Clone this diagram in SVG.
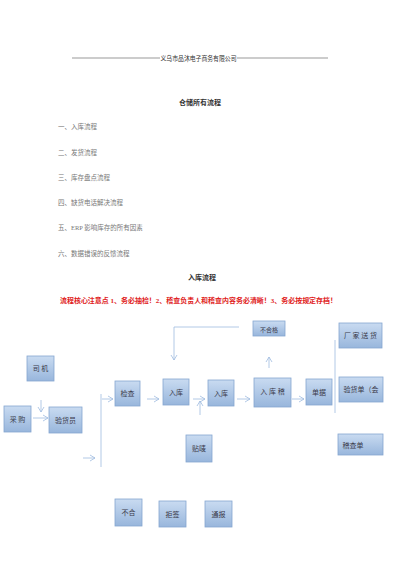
<svg xmlns="http://www.w3.org/2000/svg" width="400" height="566" viewBox="0 0 400 566">
<defs>
<linearGradient id="g" x1="0" y1="0" x2="0" y2="1">
<stop offset="0" stop-color="#c9dbf1"/>
<stop offset="1" stop-color="#98b6dc"/>
</linearGradient>
<marker id="a" markerWidth="8" markerHeight="8" refX="6" refY="4" orient="auto" markerUnits="userSpaceOnUse">
<path d="M1,1 L6,4 L1,7" fill="none" stroke="#9fbbe0" stroke-width="0.8"/>
</marker>
<style>
.b{fill:url(#g);stroke:#86a6d0;stroke-width:0.8}
.t{font-family:"Liberation Serif","Noto Sans CJK SC",serif;font-size:7px;fill:#3a3a4a;text-anchor:middle}
.h{font-family:"Liberation Serif","Noto Sans CJK SC",serif;fill:#333}
.g{font-family:"Liberation Serif","Noto Sans CJK SC",serif;fill:#777;font-size:6.5px}
.r{font-family:"Liberation Serif","Noto Sans CJK SC",serif;fill:#e02020;font-size:6.6px;font-weight:bold}
.c{stroke:#9fbbe0;stroke-width:0.8;fill:none}
.ar{stroke:#9fbbe0;stroke-width:0.8;fill:none;marker-end:url(#a)}
</style>
</defs>
<rect width="400" height="566" fill="#fff"/>
<g id="header">
<line x1="72" y1="58" x2="160" y2="58" stroke="#555" stroke-width="0.6"/>
<text class="h" x="198.5" y="60.5" font-size="6.5" text-anchor="middle" textLength="76" lengthAdjust="spacingAndGlyphs">义乌市品沐电子商务有限公司</text>
<line x1="237" y1="58" x2="328" y2="58" stroke="#555" stroke-width="0.6"/>
</g>
<g id="toc">
<text class="h" x="200" y="104.5" font-size="7" font-weight="bold" text-anchor="middle">仓储所有流程</text>
<text class="g" x="58" y="128.5">一、入库流程</text>
<text class="g" x="58" y="154.5">二、发货流程</text>
<text class="g" x="58" y="179.5">三、库存盘点流程</text>
<text class="g" x="58" y="204.5">四、缺货电话解决流程</text>
<text class="g" x="58" y="229.5">五、ERP 影响库存的所有因素</text>
<text class="g" x="58" y="255.5">六、数据错误的反馈流程</text>
<text class="h" x="202" y="279.5" font-size="7" font-weight="bold" text-anchor="middle">入库流程</text>
<text class="r" x="60" y="303" textLength="277" lengthAdjust="spacingAndGlyphs">流程核心注意点 1、务必抽检！2、稽查负责人和稽查内容务必清晰！3、务必按规定存档！</text>
</g>
<g id="connectors">
<line class="ar" x1="41" y1="400" x2="41" y2="412"/>
<line class="ar" x1="33" y1="418" x2="48" y2="418"/>
<line class="c" x1="101" y1="394" x2="101" y2="467"/>
<line class="ar" x1="83" y1="458" x2="95" y2="458"/>
<line class="ar" x1="102" y1="399" x2="113" y2="399"/>
<line class="ar" x1="147" y1="399" x2="159" y2="399"/>
<line class="c" x1="174" y1="327" x2="239" y2="327"/>
<line class="ar" x1="174" y1="327" x2="174" y2="360"/>
<line class="ar" x1="193" y1="399" x2="205" y2="399"/>
<line class="ar" x1="200" y1="415" x2="200" y2="401"/>
<line class="ar" x1="237" y1="399" x2="250" y2="399"/>
<line class="ar" x1="269" y1="368" x2="269" y2="357"/>
<line class="ar" x1="292" y1="399" x2="304" y2="399"/>
<line class="c" x1="335" y1="340" x2="335" y2="413"/>
</g>
<g id="n-siji"><rect class="b" x="27" y="356" width="27" height="25"/><text class="t" x="40.5" y="371">司 机</text></g>
<g id="n-caigou"><rect class="b" x="4" y="406" width="27" height="26"/><text class="t" x="17.5" y="421.5">采 购</text></g>
<g id="n-yanhuoyuan"><rect class="b" x="49" y="407" width="33" height="26"/><text class="t" x="65.5" y="422.5">验货员</text></g>
<g id="n-jiancha"><rect class="b" x="115" y="381" width="25" height="25"/><text class="t" x="127.5" y="396">检查</text></g>
<g id="n-ruku1"><rect class="b" x="163" y="379" width="26" height="26"/><text class="t" x="176" y="394.5">入库</text></g>
<g id="n-ruku2"><rect class="b" x="208" y="380" width="26" height="26"/><text class="t" x="221" y="395.5">入库</text></g>
<g id="n-rukuji"><rect class="b" x="254" y="378" width="37" height="29"/><text class="t" x="272.5" y="393.5">入 库 稽</text></g>
<g id="n-buhege"><rect class="b" x="253" y="321" width="32" height="15"/><text class="t" x="269" y="332" style="font-size:6px">不合格</text></g>
<g id="n-danju"><rect class="b" x="306" y="379" width="26" height="26"/><text class="t" x="319" y="394.5">单据</text></g>
<g id="n-changjia"><rect class="b" x="339" y="323" width="43" height="25"/><text class="t" x="360.5" y="338">厂 家 送 货</text></g>
<g id="n-yanhuodan"><rect class="b" x="339" y="377" width="44" height="25"/><text class="t" x="361" y="392">验货单（会</text></g>
<g id="n-jichadan"><rect class="b" x="338" y="434" width="45" height="21"/><text class="t" x="353" y="447.5">稽查单</text></g>
<g id="n-tiemai"><rect class="b" x="186" y="435" width="26" height="27"/><text class="t" x="199" y="451">贴唛</text></g>
<g id="n-buhe"><rect class="b" x="115" y="499" width="27" height="27"/><text class="t" x="128.5" y="515">不合</text></g>
<g id="n-juqian"><rect class="b" x="159" y="501" width="27" height="26"/><text class="t" x="172.5" y="516.5">拒签</text></g>
<g id="n-tongbao"><rect class="b" x="205" y="501" width="27" height="26"/><text class="t" x="218.5" y="516.5">通报</text></g>
</svg>
